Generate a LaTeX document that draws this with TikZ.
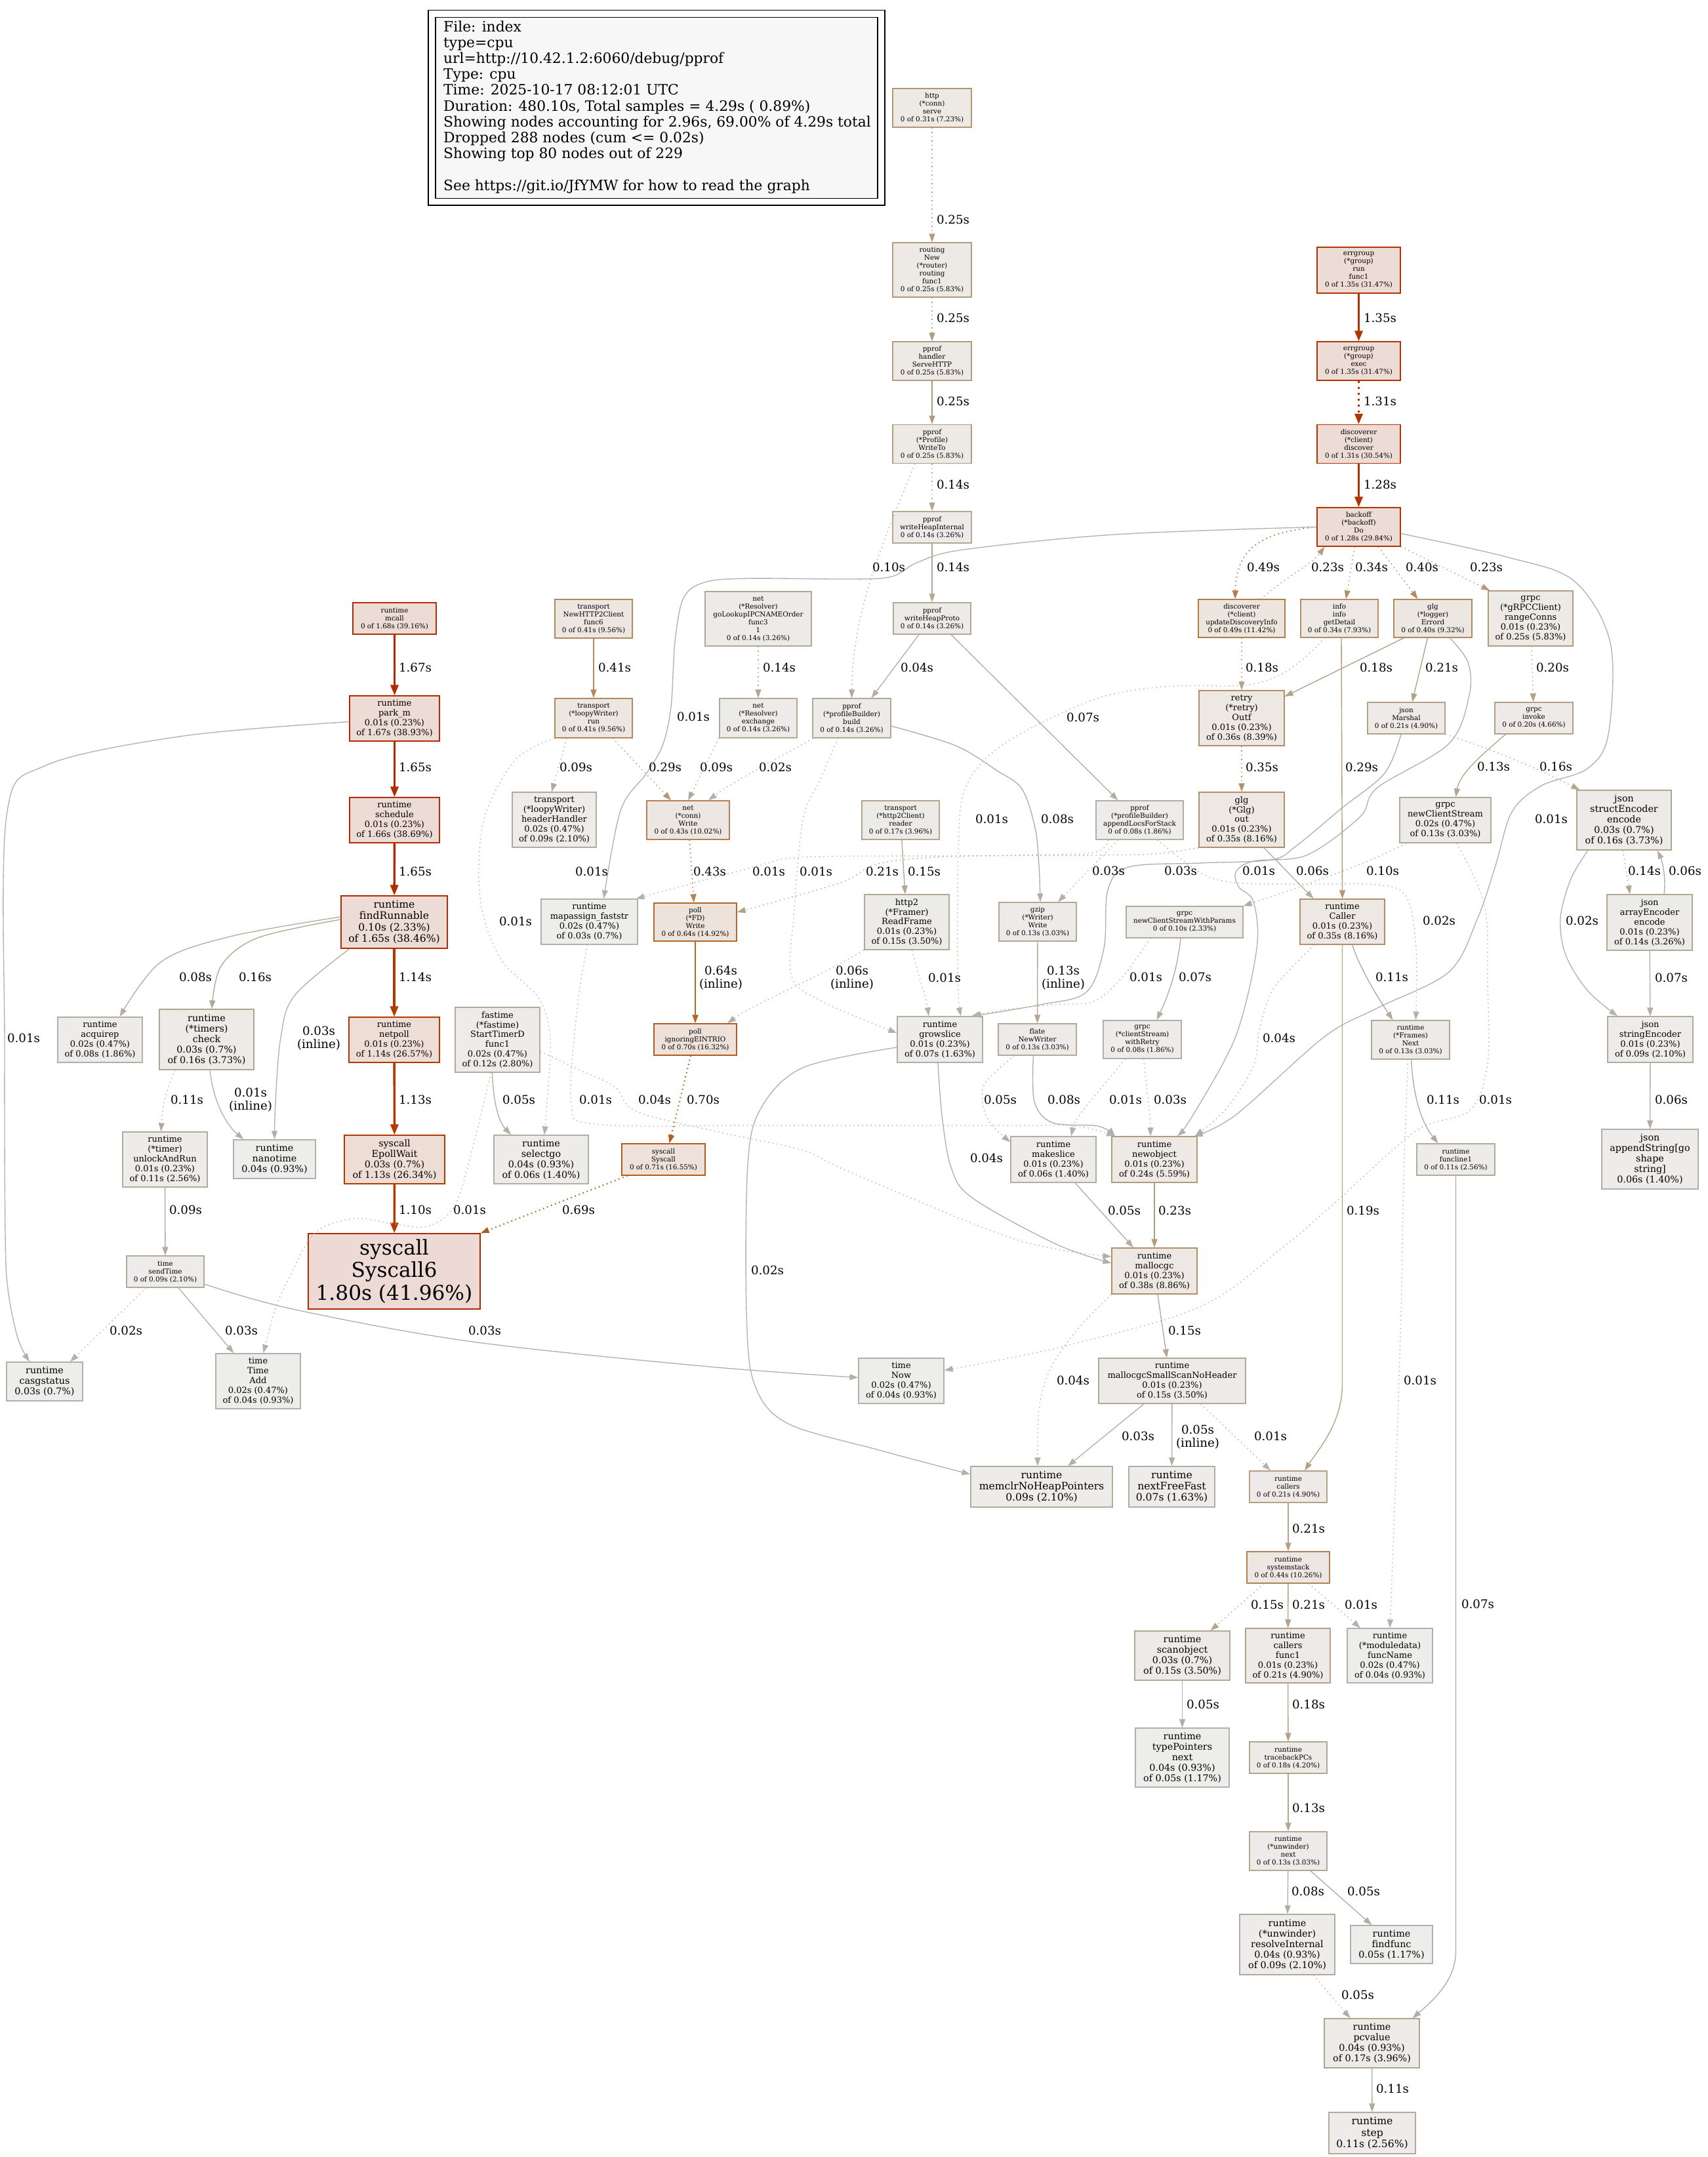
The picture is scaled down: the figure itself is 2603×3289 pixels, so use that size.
\documentclass[tikz,border=0pt]{standalone}
\usepackage{fontspec}
\setmainfont{DejaVu Serif}[Ligatures=CommonOff]
\usetikzlibrary{arrows.meta}
% node colours
\definecolor{kd1}{HTML}{B22800}\definecolor{kf1}{HTML}{EDDAD5}
\definecolor{kd2}{HTML}{B22C00}\definecolor{kf2}{HTML}{EDDBD5}
\definecolor{kd3}{HTML}{B23500}\definecolor{kf3}{HTML}{EDDCD5}
\definecolor{kd4}{HTML}{B23A00}\definecolor{kf4}{HTML}{EDDDD5}
\definecolor{kd5}{HTML}{B25D20}\definecolor{kf5}{HTML}{EDE1D9}
\definecolor{kd6}{HTML}{B2672D}\definecolor{kf6}{HTML}{EDE3DB}
\definecolor{kd7}{HTML}{B28254}\definecolor{kf7}{HTML}{EDE7E1}
\definecolor{kd7b}{HTML}{B27D4C}\definecolor{kf7b}{HTML}{EDE6DF}
\definecolor{kd8}{HTML}{B2895F}\definecolor{kf8}{HTML}{EDE7E2}
\definecolor{kd9}{HTML}{B28F68}\definecolor{kf9}{HTML}{EDE8E3}
\definecolor{kd10}{HTML}{B29572}\definecolor{kf10}{HTML}{EDE9E4}
\definecolor{kd11}{HTML}{B29C7F}\definecolor{kf11}{HTML}{EDEAE6}
\definecolor{kd12}{HTML}{B2A087}\definecolor{kf12}{HTML}{EDEAE7}
\definecolor{kd13}{HTML}{B2A58F}\definecolor{kf13}{HTML}{EDEBE8}
\definecolor{kd14}{HTML}{B2A895}\definecolor{kf14}{HTML}{EDEBE9}
\definecolor{kd15}{HTML}{B2AB9C}\definecolor{kf15}{HTML}{EDECEA}
\definecolor{kd16}{HTML}{B2AEA4}\definecolor{kf16}{HTML}{EDECEB}
\definecolor{kd17}{HTML}{B2B0AA}\definecolor{kf17}{HTML}{EDEDEC}
% edge colours
\definecolor{ec1}{HTML}{B22C00}
\definecolor{ec2}{HTML}{B23500}
\definecolor{ec3}{HTML}{B23A00}
\definecolor{ec4}{HTML}{B25D20}
\definecolor{ec5}{HTML}{B2672D}
\definecolor{ec6}{HTML}{B27D4C}
\definecolor{ec7}{HTML}{B28457}
\definecolor{ec8}{HTML}{B2885D}
\definecolor{ec9}{HTML}{B2906A}
\definecolor{ec10}{HTML}{B29776}
\definecolor{ec11}{HTML}{B29C7F}
\definecolor{ec12}{HTML}{B2A287}
\definecolor{ec13}{HTML}{B2A793}
\definecolor{ec14}{HTML}{B2AB9D}
\definecolor{ec15}{HTML}{B2AEA5}
\definecolor{ec16}{HTML}{B2B0AB}
\definecolor{ec17}{HTML}{B2B2B0}
\definecolor{legfill}{HTML}{F7F7F7}
\tikzset{
  nd/.style={draw, rectangle, inner sep=0pt, align=center, line width=1.3pt},
  sz/.style 2 args={minimum width=#1pt, minimum height=#2pt},
  fa/.style={font=\fontsize{10.4}{12}\selectfont},
  fb/.style={font=\fontsize{13}{14.9}\selectfont},
  fc/.style={font=\fontsize{14.3}{16}\selectfont},
  fd/.style={font=\fontsize{15.6}{17.4}\selectfont},
  fe/.style={font=\fontsize{31.2}{34.4}\selectfont},
  k1/.style={draw=kd1, fill=kf1}, k2/.style={draw=kd2, fill=kf2},
  k3/.style={draw=kd3, fill=kf3}, k4/.style={draw=kd4, fill=kf4},
  k5/.style={draw=kd5, fill=kf5}, k6/.style={draw=kd6, fill=kf6},
  k7/.style={draw=kd7, fill=kf7}, k7b/.style={draw=kd7b, fill=kf7b},
  k8/.style={draw=kd8, fill=kf8}, k9/.style={draw=kd9, fill=kf9},
  k10/.style={draw=kd10, fill=kf10}, k11/.style={draw=kd11, fill=kf11},
  k12/.style={draw=kd12, fill=kf12}, k13/.style={draw=kd13, fill=kf13},
  k14/.style={draw=kd14, fill=kf14}, k15/.style={draw=kd15, fill=kf15},
  k16/.style={draw=kd16, fill=kf16}, k17/.style={draw=kd17, fill=kf17},
  ed/.style={-{Triangle[length=13pt,width=9pt]}, line width=1.35pt},
  edt/.style={-{Triangle[length=16pt,width=12pt]}, line width=3.4pt},
  dt/.style={dash pattern=on 1.5pt off 5pt},
  dtt/.style={dash pattern=on 3pt off 6pt},
  sm/.style={smooth, tension=0.55},
  lb/.style={font=\fontsize{18.2}{20}\selectfont, inner sep=0pt, align=center},
  lg/.style={font=\fontsize{21.8}{24}\selectfont, inner sep=0pt, anchor=base west},
}
\begin{document}
\begin{tikzpicture}[x=1pt,y=-1pt]
\useasboundingbox (0,0) rectangle (2603,3289);
\fill[white] (0,0) rectangle (2603,3289);
% legend
\draw[line width=1.3pt, fill=white] (653,15.7) rectangle (1349,313);
\draw[line width=1.3pt, fill=legfill] (664,26.7) rectangle (1338,302.6);
\node[lg] (lg1) at (676,49) {File: index};
\node[lg] (lg2) at (676,73) {type=cpu};
\node[lg] (lg3) at (676,97) {url=http://10.42.1.2:6060/debug/pprof};
\node[lg] (lg4) at (676,121) {Type: cpu};
\node[lg] (lg5) at (676,145) {Time: 2025-10-17 08:12:01 UTC};
\node[lg] (lg6) at (676,169) {Duration: 480.10s, Total samples = 4.29s ( 0.89\%)};
\node[lg] (lg7) at (676,193) {Showing nodes accounting for 2.96s, 69.00\% of 4.29s total};
\node[lg] (lg8) at (676,217) {Dropped 288 nodes (cum <= 0.02s)};
\node[lg] (lg9) at (676,241) {Showing top 80 nodes out of 229};
\node[lg] (lg10) at (676,290) {See https://git.io/JfYMW for how to read the graph};
% nodes
\node[nd,k10,fa,sz={120}{59}] (httpserve) at (1421,164.5) {http\\(*conn)\\serve\\0 of 0.31s (7.23\%)};
\node[nd,k11,fa,sz={120}{83}] (routing) at (1421,411.5) {routing\\New\\(*router)\\routing\\func1\\0 of 0.25s (5.83\%)};
\node[nd,k11,fa,sz={120}{59}] (servehttp) at (1421,550.5) {pprof\\handler\\ServeHTTP\\0 of 0.25s (5.83\%)};
\node[nd,k11,fa,sz={120}{59}] (writeto) at (1421,677) {pprof\\(*Profile)\\WriteTo\\0 of 0.25s (5.83\%)};
\node[nd,k14,fa,sz={120}{48}] (whi) at (1421,804) {pprof\\writeHeapInternal\\0 of 0.14s (3.26\%)};
\node[nd,k3,fa,sz={127}{70}] (egrun) at (2071.5,412) {errgroup\\(*group)\\run\\func1\\0 of 1.35s (31.47\%)};
\node[nd,k3,fa,sz={127}{59}] (egexec) at (2071.5,550.5) {errgroup\\(*group)\\exec\\0 of 1.35s (31.47\%)};
\node[nd,k3,fa,sz={127}{59}] (discover) at (2071.5,677) {discoverer\\(*client)\\discover\\0 of 1.31s (30.54\%)};
\node[nd,k3,fa,sz={127}{59}] (backoff) at (2071.5,803.5) {backoff\\(*backoff)\\Do\\0 of 1.28s (29.84\%)};
\node[nd,k2,fa,sz={127}{48}] (mcall) at (601.5,943) {runtime\\mcall\\0 of 1.68s (39.16\%)};
\node[nd,k2,fb,sz={137}{69}] (parkm) at (601.5,1095.5) {runtime\\park\_m\\0.01s (0.23\%)\\of 1.67s (38.93\%)};
\node[nd,k2,fb,sz={137}{69}] (schedule) at (601.5,1250.5) {runtime\\schedule\\0.01s (0.23\%)\\of 1.66s (38.69\%)};
\node[nd,k2,fd,sz={162}{80}] (findrun) at (601,1406) {runtime\\findRunnable\\0.10s (2.33\%)\\of 1.65s (38.46\%)};
\node[nd,k8,fa,sz={118}{59}] (func6) at (905,943.5) {transport\\NewHTTP2Client\\func6\\0 of 0.41s (9.56\%)};
\node[nd,k8,fa,sz={118}{60}] (loopyrun) at (905,1095) {transport\\(*loopyWriter)\\run\\0 of 0.41s (9.56\%)};
\node[nd,k15,fb,sz={128}{84}] (hdrhandler) at (845,1250) {transport\\(*loopyWriter)\\headerHandler\\0.02s (0.47\%)\\of 0.09s (2.10\%)};
\node[nd,k14,fa,sz={162}{83}] (resfunc3) at (1156,943.5) {net\\(*Resolver)\\goLookupIPCNAMEOrder\\func3\\1\\0 of 0.14s (3.26\%)};
\node[nd,k14,fa,sz={118}{60}] (exchange) at (1156,1095) {net\\(*Resolver)\\exchange\\0 of 0.14s (3.26\%)};
\node[nd,k14,fa,sz={118}{48}] (whp) at (1421,943) {pprof\\writeHeapProto\\0 of 0.14s (3.26\%)};
\node[nd,k14,fa,sz={119}{60}] (build) at (1298.5,1095) {pprof\\(*profileBuilder)\\build\\0 of 0.14s (3.26\%)};
\node[nd,k7,fa,sz={126}{59}] (connwrite) at (1049,1250.5) {net\\(*conn)\\Write\\0 of 0.43s (10.02\%)};
\node[nd,k13,fa,sz={118}{59}] (reader) at (1373,1250.5) {transport\\(*http2Client)\\reader\\0 of 0.17s (3.96\%)};
\node[nd,k17,fb,sz={147}{69}] (mapassign) at (898.5,1405.5) {runtime\\mapassign\_faststr\\0.02s (0.47\%)\\of 0.03s (0.7\%)};
\node[nd,k6,fa,sz={126}{58}] (fdwrite) at (1060,1406) {poll\\(*FD)\\Write\\0 of 0.64s (14.92\%)};
\node[nd,k14,fb,sz={129}{84}] (readframe) at (1382.5,1406) {http2\\(*Framer)\\ReadFrame\\0.01s (0.23\%)\\of 0.15s (3.50\%)};
\node[nd,k7b,fa,sz={132}{58}] (updisc) at (1893,943) {discoverer\\(*client)\\updateDiscoveryInfo\\0 of 0.49s (11.42\%)};
\node[nd,k9,fa,sz={118}{58}] (getdetail) at (2042,943) {info\\info\\getDetail\\0 of 0.34s (7.93\%)};
\node[nd,k8,fa,sz={119}{58}] (errord) at (2184.5,943) {glg\\(*logger)\\Errord\\0 of 0.40s (9.32\%)};
\node[nd,k11,fb,sz={129}{84}] (rangeconns) at (2333.5,943) {grpc\\(*gRPCClient)\\rangeConns\\0.01s (0.23\%)\\of 0.25s (5.83\%)};
\node[nd,k9,fb,sz={130}{84}] (outf) at (1893,1095) {retry\\(*retry)\\Outf\\0.01s (0.23\%)\\of 0.36s (8.39\%)};
\node[nd,k12,fa,sz={118}{48}] (marshal) at (2144,1095) {json\\Marshal\\0 of 0.21s (4.90\%)};
\node[nd,k12,fa,sz={119}{48}] (invoke) at (2338.5,1095) {grpc\\invoke\\0 of 0.20s (4.66\%)};
\node[nd,k9,fb,sz={130}{84}] (glgout) at (1893,1250) {glg\\(*Glg)\\out\\0.01s (0.23\%)\\of 0.35s (8.16\%)};
\node[nd,k16,fa,sz={133}{59}] (appendlocs) at (1737.5,1250.5) {pprof\\(*profileBuilder)\\appendLocsForStack\\0 of 0.08s (1.86\%)};
\node[nd,k14,fb,sz={139}{69}] (newcs) at (2203.5,1250.5) {grpc\\newClientStream\\0.02s (0.47\%)\\of 0.13s (3.03\%)};
\node[nd,k13,fc,sz={144}{91}] (structenc) at (2476,1250.5) {json\\structEncoder\\encode\\0.03s (0.7\%)\\of 0.16s (3.73\%)};
\node[nd,k14,fa,sz={118}{59}] (gzip) at (1582,1405.5) {gzip\\(*Writer)\\Write\\0 of 0.13s (3.03\%)};
\node[nd,k15,fa,sz={178}{48}] (ncswp) at (1806,1406) {grpc\\newClientStreamWithParams\\0 of 0.10s (2.33\%)};
\node[nd,k9,fb,sz={129}{69}] (caller) at (2046.5,1405.5) {runtime\\Caller\\0.01s (0.23\%)\\of 0.35s (8.16\%)};
\node[nd,k14,fb,sz={130}{85}] (arrayenc) at (2515,1406.5) {json\\arrayEncoder\\encode\\0.01s (0.23\%)\\of 0.14s (3.26\%)};
\node[nd,k16,fb,sz={129}{69}] (acquirep) at (152.5,1585.5) {runtime\\acquirep\\0.02s (0.47\%)\\of 0.08s (1.86\%)};
\node[nd,k13,fc,sz={144}{92}] (timerscheck) at (315,1585) {runtime\\(*timers)\\check\\0.03s (0.7\%)\\of 0.16s (3.73\%)};
\node[nd,k4,fb,sz={138}{69}] (netpoll) at (601,1585.5) {runtime\\netpoll\\0.01s (0.23\%)\\of 1.14s (26.57\%)};
\node[nd,k15,fb,sz={129}{99}] (fastime) at (758.5,1585.5) {fastime\\(*fastime)\\StartTimerD\\func1\\0.02s (0.47\%)\\of 0.12s (2.80\%)};
\node[nd,k5,fa,sz={126}{48}] (eintr) at (1060,1585) {poll\\ignoringEINTRIO\\0 of 0.70s (16.32\%)};
\node[nd,k16,fb,sz={130}{70}] (growslice) at (1433,1585) {runtime\\growslice\\0.01s (0.23\%)\\of 0.07s (1.63\%)};
\node[nd,k14,fa,sz={119}{48}] (flate) at (1581.5,1585) {flate\\NewWriter\\0 of 0.13s (3.03\%)};
\node[nd,k16,fa,sz={119}{58}] (withretry) at (1741.5,1585) {grpc\\(*clientStream)\\withRetry\\0 of 0.08s (1.86\%)};
\node[nd,k14,fa,sz={119}{59}] (framesnext) at (2150.5,1585.5) {runtime\\(*Frames)\\Next\\0 of 0.13s (3.03\%)};
\node[nd,k15,fb,sz={130}{70}] (stringenc) at (2516,1585) {json\\stringEncoder\\0.01s (0.23\%)\\of 0.09s (2.10\%)};
\node[nd,k15,fb,sz={129}{84}] (unlock) at (251.5,1768) {runtime\\(*timer)\\unlockAndRun\\0.01s (0.23\%)\\of 0.11s (2.56\%)};
\node[nd,k17,fc,sz={125}{59}] (nanotime) at (418.5,1767.5) {runtime\\nanotime\\0.04s (0.93\%)};
\node[nd,k4,fc,sz={153}{74}] (epollwait) at (601.5,1768) {syscall\\EpollWait\\0.03s (0.7\%)\\of 1.13s (26.34\%)};
\node[nd,k16,fc,sz={144}{74}] (selectgo) at (825,1768) {runtime\\selectgo\\0.04s (0.93\%)\\of 0.06s (1.40\%)};
\node[nd,k5,fa,sz={127}{48}] (syscall) at (1011.5,1768) {syscall\\Syscall\\0 of 0.71s (16.55\%)};
\node[nd,k16,fb,sz={130}{70}] (makeslice) at (1606,1768) {runtime\\makeslice\\0.01s (0.23\%)\\of 0.06s (1.40\%)};
\node[nd,k11,fb,sz={130}{70}] (newobject) at (1760,1768) {runtime\\newobject\\0.01s (0.23\%)\\of 0.24s (5.59\%)};
\node[nd,k15,fa,sz={119}{48}] (funcline1) at (2219.5,1768) {runtime\\funcline1\\0 of 0.11s (2.56\%)};
\node[nd,k16,fc,sz={147}{91}] (appendstring) at (2515.5,1767.5) {json\\appendString[go\\shape\\string]\\0.06s (1.40\%)};
\node[nd,k15,fa,sz={118}{48}] (sendtime) at (252,1939) {time\\sendTime\\0 of 0.09s (2.10\%)};
\node[nd,k1,fe,sz={262}{115}] (syscall6) at (601,1938.5) {syscall\\Syscall6\\1.80s (41.96\%)};
\node[nd,k9,fb,sz={130}{70}] (mallocgc) at (1760,1938) {runtime\\mallocgc\\0.01s (0.23\%)\\of 0.38s (8.86\%)};
\node[nd,k17,fc,sz={116}{59}] (casgstatus) at (68,2106.5) {runtime\\casgstatus\\0.03s (0.7\%)};
\node[nd,k17,fb,sz={129}{84}] (timeadd) at (393.5,2106) {time\\Time\\Add\\0.02s (0.47\%)\\of 0.04s (0.93\%)};
\node[nd,k17,fb,sz={130}{69}] (timenow) at (1374,2105.5) {time\\Now\\0.02s (0.47\%)\\of 0.04s (0.93\%)};
\node[nd,k14,fb,sz={224}{69}] (smallscan) at (1787,2105.5) {runtime\\mallocgcSmallScanNoHeader\\0.01s (0.23\%)\\of 0.15s (3.50\%)};
\node[nd,k15,fd,sz={216}{62}] (memclr) at (1588,2267) {runtime\\memclrNoHeapPointers\\0.09s (2.10\%)};
\node[nd,k16,fd,sz={131}{62}] (nextfree) at (1786.5,2267) {runtime\\nextFreeFast\\0.07s (1.63\%)};
\node[nd,k12,fa,sz={118}{48}] (callers) at (1964,2267) {runtime\\callers\\0 of 0.21s (4.90\%)};
\node[nd,k7,fa,sz={126}{48}] (systemstack) at (1964,2390) {runtime\\systemstack\\0 of 0.44s (10.26\%)};
\node[nd,k14,fc,sz={145}{75}] (scanobject) at (1802.5,2524.5) {runtime\\scanobject\\0.03s (0.7\%)\\of 0.15s (3.50\%)};
\node[nd,k12,fb,sz={129}{83}] (callersfunc1) at (1963.5,2524.5) {runtime\\callers\\func1\\0.01s (0.23\%)\\of 0.21s (4.90\%)};
\node[nd,k17,fb,sz={130}{83}] (funcname) at (2119,2524.5) {runtime\\(*moduledata)\\funcName\\0.02s (0.47\%)\\of 0.04s (0.93\%)};
\node[nd,k17,fc,sz={143}{90}] (typeptrs) at (1802.5,2680) {runtime\\typePointers\\next\\0.04s (0.93\%)\\of 0.05s (1.17\%)};
\node[nd,k13,fa,sz={118}{48}] (tracebackpcs) at (1964,2680) {runtime\\tracebackPCs\\0 of 0.18s (4.20\%)};
\node[nd,k14,fa,sz={118}{59}] (unwnext) at (1964,2822.5) {runtime\\(*unwinder)\\next\\0 of 0.13s (3.03\%)};
\node[nd,k15,fc,sz={145}{92}] (resolve) at (1962.5,2965) {runtime\\(*unwinder)\\resolveInternal\\0.04s (0.93\%)\\of 0.09s (2.10\%)};
\node[nd,k17,fc,sz={125}{58}] (findfunc) at (2121.5,2965) {runtime\\findfunc\\0.05s (1.17\%)};
\node[nd,k13,fc,sz={145}{75}] (pcvalue) at (2091.5,3115.5) {runtime\\pcvalue\\0.04s (0.93\%)\\of 0.17s (3.96\%)};
\node[nd,k15,fd,sz={132}{63}] (step) at (2092,3252.5) {runtime\\step\\0.11s (2.56\%)};
% edges
\draw[ed,dt,draw=ec11] (httpserve) -- (routing);
\draw[ed,dt,draw=ec11] (routing) -- (servehttp);
\draw[ed,draw=ec11] (servehttp) -- (writeto);
\draw[ed,dt,draw=ec13] (writeto) -- (whi);
\draw[ed,dt,draw=ec14] ([xshift=-26pt]writeto.south) .. controls (1345,830) and (1300,930) .. (build.north);
\draw[ed,draw=ec13] (whi) -- (whp);
\draw[ed,draw=ec16] ([xshift=-20pt]whp.south) -- ([xshift=30pt]build.north);
\draw[ed,draw=ec15] ([xshift=29pt]whp.south) -- ([xshift=-33pt]appendlocs.north);
\draw[edt,draw=ec2] (egrun) -- (egexec);
\draw[edt,dtt,draw=ec2] (egexec) -- (discover);
\draw[edt,draw=ec2] (discover) -- (backoff);
\draw[ed,dt,draw=ec6,line width=1.9pt] (backoff.west) .. controls (1930,812) and (1885,830) .. ([xshift=-10pt]updisc.north);
\draw[ed,dt,draw=ec11] ([xshift=29pt]updisc.north) .. controls (1960,880) and (2000,860) .. ([xshift=-52pt]backoff.south);
\draw[ed,dt,draw=ec9] ([xshift=-6pt]backoff.south) -- ([xshift=10pt]getdetail.north);
\draw[ed,dt,draw=ec8] ([xshift=30pt]backoff.south) -- ([xshift=-23pt]errord.north);
\draw[ed,dt,draw=ec11] (backoff.south east) -- ([xshift=3pt]rangeconns.north west);
\draw[ed,draw=ec17] plot[sm] coordinates {(backoff.west) (1700,815) (1470,838) (1400,857) (1360,879) (1300,883) (1140,882) (1074,888) (1042,912) (1029,979) (1023,1078) (1010,1137) (985,1180) (946,1236) ([xshift=22pt]mapassign.north)};
\draw[ed,draw=ec17] plot[sm] coordinates {([yshift=-10pt]backoff.east) (2300,850) (2400,886) (2455,980) (2452,1120) (2420,1172) (2350,1198) (2305,1238) (2280,1320) (2252,1402) (2209,1482) (2100,1537) (2019,1581) (1884,1700) ([xshift=-5pt]newobject.north east)};
\draw[ed,dt,draw=ec12] (updisc) -- (outf);
\draw[ed,draw=ec10] ([xshift=3pt]getdetail.south) -- (caller.north);
\draw[ed,dt,draw=ec17] plot[sm] coordinates {([xshift=-22pt]getdetail.south) (1990,1002) (1950,1030) (1895,1045) (1775,1047) (1667,1067) (1531,1134) (1472,1201) (1461,1300) (1460,1491) ([xshift=32pt]growslice.north)};
\draw[ed,draw=ec12] ([xshift=-44pt]errord.south) -- ([yshift=33pt]outf.east);
\draw[ed,draw=ec12] ([xshift=-8pt]errord.south) -- ([xshift=9pt]marshal.north);
\draw[ed,draw=ec17] plot[sm] coordinates {([xshift=26pt]errord.south) (2238,1010) (2240,1060) (2209,1134) (2100,1201) (2073,1246) (1992,1304) (1911,1313) (1884,1330) (1889,1353) (1911,1375) (1916,1446) (1884,1580) (1819,1700) ([xshift=35pt]newobject.north)};
\draw[ed,dt,draw=ec13] (marshal.south east) .. controls (2300,1150) and (2380,1190) .. ([xshift=5pt]structenc.north west);
\draw[ed,draw=ec16] plot[sm] coordinates {([xshift=-8pt]marshal.south) (2111,1179) (2046,1232) (1976,1290) (1938,1311) (1829,1316) (1721,1322) (1689,1357) (1683,1446) (1656,1513) (1586,1532) ([xshift=50pt]growslice.north)};
\draw[ed,dt,draw=ec12] (rangeconns) -- (invoke);
\draw[ed,draw=ec13] ([xshift=-43pt]invoke.south) .. controls (2260,1150) and (2225,1180) .. ([xshift=16pt]newcs.north);
\draw[ed,dt,draw=ec9] (outf) -- (glgout);
\draw[ed,draw=ec15] ([xshift=34pt]glgout.south) -- ([xshift=-44pt]caller.north);
\draw[ed,dt,draw=ec12] plot[sm] coordinates {(glgout.south west) (1760,1302) (1667,1304) (1450,1306) (1339,1317) (1281,1346) ([yshift=15pt]fdwrite.east)};
\draw[ed,dt,draw=ec17] plot[sm] coordinates {([xshift=-48pt]appendlocs.south) (1667,1300) (1550,1304) (1450,1305) (1224,1307) (1149,1322) ([xshift=-3pt]mapassign.north east)};
\draw[ed,dt,draw=ec16] ([xshift=-33pt]appendlocs.south) -- ([xshift=31pt]gzip.north);
\draw[ed,dt,draw=ec17] plot[sm] coordinates {([xshift=27pt]appendlocs.south) (1829,1330) (1884,1346) (2000,1348) (2100,1349) (2144,1367) (2159,1446) ([xshift=8pt]framesnext.north)};
\draw[ed,dt,draw=ec14] ([xshift=-60pt]newcs.south) .. controls (2080,1320) and (1960,1360) .. (ncswp.north east);
\draw[ed,dt,draw=ec17] plot[sm] coordinates {([xshift=17pt]newcs.south) (2263,1379) (2268,1500) (2268,1620) (2241,1693) (2158,1725) (2033,1836) (1958,1900) (1831,1992) (1621,2053) ([yshift=16pt]timenow.east)};
\draw[ed,dt,draw=ec13] ([xshift=-2pt]structenc.south) -- ([xshift=-30pt]arrayenc.north);
\draw[ed,draw=ec15] ([xshift=22pt]arrayenc.north) .. controls (2540,1340) and (2535,1315) .. ([xshift=51pt]structenc.south);
\draw[ed,draw=ec17] plot[sm] coordinates {([xshift=-55pt]structenc.south) (2395,1340) (2379,1400) (2387,1456) (2420,1510) ([xshift=-50pt]stringenc.north)};
\draw[ed,draw=ec15] (arrayenc) -- (stringenc);
\draw[ed,draw=ec15] (stringenc) -- (appendstring);
\draw[ed,draw=ec15] ([xshift=-6pt]ncswp.south) .. controls (1795,1480) and (1780,1520) .. ([xshift=22pt]withretry.north);
\draw[ed,dt,draw=ec17] plot[sm] coordinates {([xshift=-52pt]ncswp.south) (1710,1491) (1667,1527) (1602,1532) (1530,1540) ([xshift=48pt]growslice.north)};
\draw[ed,draw=ec14] ([xshift=15pt]caller.south) .. controls (2075,1480) and (2100,1520) .. ([xshift=-27pt]framesnext.north);
\draw[ed,dt,draw=ec16] plot[sm] coordinates {([xshift=-43pt]caller.south) (1965,1480) (1938,1513) (1920,1570) (1911,1625) (1870,1690) ([xshift=62pt]newobject.north)};
\draw[ed,draw=ec12] (caller.south) -- (2046.5,2110) .. controls (2046.5,2170) and (2010,2210) .. ([xshift=25pt]callers.north);
\draw[ed,draw=ec13] (gzip) -- (flate);
\draw[ed,dt,draw=ec15] plot[sm] coordinates {([xshift=-35pt]flate.south) (1500,1655) (1505,1705) ([yshift=-9pt]makeslice.north west)};
\draw[ed,draw=ec15] plot[sm] coordinates {([xshift=-6pt]flate.south) (1577,1680) (1605,1712) (1674,1717) ([xshift=-60pt]newobject.north)};
\draw[ed,dt,draw=ec17] ([xshift=-26pt]withretry.south) .. controls (1680,1660) and (1640,1700) .. ([xshift=27pt]makeslice.north);
\draw[ed,dt,draw=ec16] ([xshift=2pt]withretry.south) .. controls (1748,1660) and (1754,1700) .. ([xshift=-6pt]newobject.north);
\draw[ed,draw=ec14] ([xshift=1pt]framesnext.south) .. controls (2155,1680) and (2170,1715) .. ([xshift=-27pt]funcline1.north);
\draw[ed,dt,draw=ec17] plot[sm] coordinates {([xshift=-4pt]framesnext.south) (2140,1800) (2136,2000) (2128,2250) (funcname.north)};
\draw[ed,draw=ec15] (funcline1.south) -- (2219.5,2975) .. controls (2219.5,3020) and (2185,3050) .. ([xshift=62pt]pcvalue.north);
\draw[edt,draw=ec1] (mcall) -- (parkm);
\draw[edt,draw=ec1] (parkm) -- (schedule);
\draw[edt,draw=ec1] (schedule) -- (findrun);
\draw[edt,draw=ec3] (findrun) -- (netpoll);
\draw[edt,draw=ec3] (netpoll) -- (epollwait);
\draw[edt,draw=ec3] (epollwait) -- (syscall6);
\draw[ed,draw=ec17] plot[sm] coordinates {([yshift=-5pt]parkm.west) (281,1122) (70,1167) (10,1244) (7,1600) (8,1880) (12,1965) (27,2040) ([xshift=-23pt]casgstatus.north)};
\draw[ed,draw=ec15] plot[sm] coordinates {([yshift=8pt]findrun.west) (351,1428) (245,1467) ([xshift=30pt]acquirep.north)};
\draw[ed,draw=ec13] plot[sm] coordinates {([yshift=4pt]findrun.west) (393,1430) (337,1473) ([xshift=8pt]timerscheck.north)};
\draw[ed,draw=ec16] plot[sm] coordinates {([xshift=-68pt]findrun.south) (449,1518) (428,1582) (420,1680) (nanotime.north)};
\draw[ed,dt,draw=ec14] ([xshift=-48pt]timerscheck.south) .. controls (249,1670) and (247,1700) .. ([xshift=-6pt]unlock.north);
\draw[ed,draw=ec17] ([xshift=5pt]timerscheck.south) .. controls (325,1680) and (345,1715) .. ([xshift=-47pt]nanotime.north);
\draw[ed,draw=ec14] (unlock) -- (sendtime);
\draw[ed,dt,draw=ec17] ([xshift=-29pt]sendtime.south) -- ([xshift=39pt]casgstatus.north);
\draw[ed,draw=ec16] ([xshift=20pt]sendtime.south) -- ([xshift=-37pt]timeadd.north);
\draw[ed,draw=ec16] plot[sm] coordinates {([yshift=-19pt]sendtime.east) (446,1996) (714,2045) (1071,2083) ([yshift=5pt]timenow.west)};
\draw[ed,draw=ec8] (func6) -- (loopyrun);
\draw[ed,dt,draw=ec14] ([xshift=-41pt]loopyrun.south) -- ([xshift=-4pt]hdrhandler.north);
\draw[ed,dt,draw=ec10] ([xshift=29pt]loopyrun.south) -- ([xshift=-26pt]connwrite.north);
\draw[ed,dt,draw=ec17] plot[sm] coordinates {(loopyrun.south west) (787,1157) (742,1236) (730,1315) (736,1393) (765,1465) (822,1523) (839,1585) (834,1680) ([xshift=5pt]selectgo.north)};
\draw[ed,dt,draw=ec13] (resfunc3) -- (exchange);
\draw[ed,dt,draw=ec14] ([xshift=-60pt]exchange.south) -- (connwrite.north);
\draw[ed,dt,draw=ec17] ([xshift=-59pt]build.south) .. controls (1180,1160) and (1120,1190) .. ([xshift=31pt]connwrite.north);
\draw[ed,draw=ec15] plot[sm] coordinates {([yshift=-12pt]build.east) (1457,1137) (1520,1175) (1558,1203) (1578,1262) (1584,1320) ([xshift=4pt]gzip.north)};
\draw[ed,dt,draw=ec17] plot[sm] coordinates {([xshift=-21pt]build.south) (1250,1190) (1224,1250) (1210,1400) (1207,1489) (1253,1527) ([yshift=10pt]growslice.west)};
\draw[ed,dt,draw=ec7,line width=1.9pt] (connwrite) -- (fdwrite);
\draw[ed,draw=ec13] (reader) -- (readframe);
\draw[ed,draw=ec5,line width=2.2pt] (fdwrite) -- (eintr);
\draw[ed,dt,draw=ec15] ([xshift=-66pt]readframe.south) .. controls (1250,1490) and (1150,1530) .. ([xshift=49pt]eintr.north);
\draw[ed,dt,draw=ec17] ([xshift=8pt]readframe.south) .. controls (1400,1490) and (1412,1520) .. ([xshift=-17pt]growslice.north);
\draw[ed,dt,draw=ec17] plot[sm] coordinates {([xshift=-3pt]mapassign.south) (880,1537) (871,1680) (908,1714) (1167,1716) (1550,1716) (1642,1717) ([xshift=-60pt]newobject.north)};
\draw[ed,dt,draw=ec4,line width=2.2pt] ([xshift=-7pt]eintr.south) -- ([xshift=9pt]syscall.north);
\draw[ed,dt,draw=ec4,line width=2.2pt] ([xshift=-55pt]syscall.south) -- (syscall6.north east);
\draw[ed,draw=ec15] ([xshift=-8pt]fastime.south) .. controls (752,1680) and (760,1710) .. ([xshift=-46pt]selectgo.north);
\draw[ed,dt,draw=ec16] plot[sm] coordinates {([yshift=-18pt]fastime.east) (880,1630) (937,1657) (971,1695) (1100,1727) (1224,1754) (1291,1785) (1546,1889) ([yshift=22pt]mallocgc.west)};
\draw[ed,dt,draw=ec17] plot[sm] coordinates {([xshift=-10pt]fastime.south) (723,1741) (694,1837) (652,1870) (600,1866) (540,1858) (480,1880) (440,1950) (420,1995) ([xshift=8pt]timeadd.north)};
\draw[ed,draw=ec16] plot[sm] coordinates {([xshift=-3pt]growslice.south) (1436,1700) (1450,1780) (1483,1827) (1610,1897) ([yshift=12pt]mallocgc.west)};
\draw[ed,draw=ec17] plot[sm] coordinates {([yshift=-12pt]growslice.west) (1224,1628) (1160,1690) (1140,1776) (1138,2000) (1150,2110) (1200,2170) (1340,2211) ([yshift=19pt]memclr.west)};
\draw[ed,draw=ec15] ([xshift=33pt]makeslice.south) -- ([xshift=-32pt]mallocgc.north);
\draw[ed,draw=ec11] (newobject) -- (mallocgc);
\draw[ed,draw=ec13] ([xshift=5pt]mallocgc.south) -- ([xshift=-8pt]smallscan.north);
\draw[ed,dt,draw=ec16] plot[sm] coordinates {(mallocgc.south west) (1640,2030) (1600,2090) (1584,2150) ([xshift=-6pt]memclr.north)};
\draw[ed,draw=ec16] ([xshift=-43pt]smallscan.south) -- ([xshift=40pt]memclr.north);
\draw[ed,draw=ec15] (smallscan) -- (nextfree);
\draw[ed,dt,draw=ec17] ([xshift=44pt]smallscan.south) -- ([xshift=-27pt]callers.north);
\draw[ed,draw=ec12] (callers) -- (systemstack);
\draw[ed,dt,draw=ec13] ([xshift=-37pt]systemstack.south) -- ([xshift=43pt]scanobject.north);
\draw[ed,draw=ec12] (systemstack) -- (callersfunc1);
\draw[ed,dt,draw=ec17] ([xshift=31pt]systemstack.south) -- ([xshift=-45pt]funcname.north);
\draw[ed,draw=ec15] (scanobject) -- (typeptrs);
\draw[ed,draw=ec12] (callersfunc1) -- (tracebackpcs);
\draw[ed,draw=ec13] (tracebackpcs) -- (unwnext);
\draw[ed,draw=ec15] (unwnext) -- (resolve);
\draw[ed,draw=ec15] ([xshift=34pt]unwnext.south) -- ([xshift=-30pt]findfunc.north);
\draw[ed,dt,draw=ec15] ([xshift=40pt]resolve.south) -- ([xshift=-33pt]pcvalue.north);
\draw[ed,draw=ec14] (pcvalue) -- (step);
% edge labels
\node[lb] (l1) at (1453,335) {0.25s};
\node[lb] (l2) at (1453,485) {0.25s};
\node[lb] (l3) at (1453,612) {0.25s};
\node[lb] (l4) at (1453,739) {0.14s};
\node[lb] (l5) at (1355,865) {0.10s};
\node[lb] (l6) at (1453,865) {0.14s};
\node[lb] (l7) at (2104,485) {1.35s};
\node[lb] (l8) at (2104,612) {1.31s};
\node[lb] (l9) at (2104,739) {1.28s};
\node[lb] (l10) at (1926,865) {0.49s};
\node[lb] (l11) at (2024,865) {0.23s};
\node[lb] (l12) at (2091,865) {0.34s};
\node[lb] (l13) at (2168,865) {0.40s};
\node[lb] (l14) at (2266,865) {0.23s};
\node[lb] (l15) at (1924,1018) {0.18s};
\node[lb] (l16) at (2098,1018) {0.18s};
\node[lb] (l17) at (2198,1018) {0.21s};
\node[lb] (l18) at (2367,1018) {0.20s};
\node[lb] (l19) at (633,1018) {1.67s};
\node[lb] (l20) at (937,1018) {0.41s};
\node[lb] (l21) at (1188,1018) {0.14s};
\node[lb] (l22) at (1398,1018) {0.04s};
\node[lb] (l23) at (1057,1093) {0.01s};
\node[lb] (l24) at (1651,1094) {0.07s};
\node[lb] (l25) at (633,1170) {1.65s};
\node[lb] (l26) at (878,1170) {0.09s};
\node[lb] (l27) at (1014,1170) {0.29s};
\node[lb] (l28) at (1092,1170) {0.09s};
\node[lb] (l29) at (1182,1170) {0.02s};
\node[lb] (l30) at (1924,1170) {0.35s};
\node[lb] (l31) at (2076,1170) {0.29s};
\node[lb] (l32) at (2277,1169) {0.13s};
\node[lb] (l33) at (2372,1169) {0.16s};
\node[lb] (l34) at (1512,1249) {0.01s};
\node[lb] (l35) at (1612,1249) {0.08s};
\node[lb] (l36) at (2365,1249) {0.01s};
\node[lb] (l37) at (633,1329) {1.65s};
\node[lb] (l38) at (902,1329) {0.01s};
\node[lb] (l39) at (1082,1329) {0.43s};
\node[lb] (l40) at (1172,1329) {0.01s};
\node[lb] (l41) at (1244,1329) {0.01s};
\node[lb] (l42) at (1345,1329) {0.21s};
\node[lb] (l43) at (1409,1329) {0.15s};
\node[lb] (l44) at (1690,1328) {0.03s};
\node[lb] (l45) at (1800,1328) {0.03s};
\node[lb] (l46) at (1919,1328) {0.01s};
\node[lb] (l47) at (2001,1328) {0.06s};
\node[lb] (l48) at (2108,1328) {0.10s};
\node[lb] (l49) at (2507,1328) {0.14s};
\node[lb] (l50) at (2569,1328) {0.06s};
\node[lb] (l51) at (786,1405) {0.01s};
\node[lb] (l52) at (2194,1404) {0.02s};
\node[lb] (l53) at (2412,1404) {0.02s};
\node[lb] (l54) at (633,1490) {1.14s};
\node[lb] (l55) at (298,1490) {0.08s};
\node[lb] (l56) at (389,1490) {0.16s};
\node[lb] (l57) at (1099,1491) {0.64s\\(inline)};
\node[lb] (l58) at (1299,1491) {0.06s\\(inline)};
\node[lb] (l59) at (1440,1491) {0.01s};
\node[lb] (l60) at (1621,1491) {0.13s\\(inline)};
\node[lb] (l61) at (1747,1490) {0.01s};
\node[lb] (l62) at (1822,1490) {0.07s};
\node[lb] (l63) at (2122,1490) {0.11s};
\node[lb] (l64) at (2548,1491) {0.07s};
\node[lb] (l65) at (36,1583) {0.01s};
\node[lb] (l66) at (486,1583) {0.03s\\(inline)};
\node[lb] (l67) at (1950,1583) {0.04s};
\node[lb] (l68) at (633,1677) {1.13s};
\node[lb] (l69) at (285,1677) {0.11s};
\node[lb] (l70) at (382,1677) {0.01s\\(inline)};
\node[lb] (l71) at (791,1677) {0.05s};
\node[lb] (l72) at (908,1677) {0.01s};
\node[lb] (l73) at (998,1677) {0.04s};
\node[lb] (l74) at (1072,1677) {0.70s};
\node[lb] (l75) at (1525,1677) {0.05s};
\node[lb] (l76) at (1622,1677) {0.08s};
\node[lb] (l77) at (1716,1677) {0.01s};
\node[lb] (l78) at (1784,1677) {0.03s};
\node[lb] (l79) at (2200,1677) {0.11s};
\node[lb] (l80) at (2280,1677) {0.01s};
\node[lb] (l81) at (2548,1677) {0.06s};
\node[lb] (l82) at (1504,1766) {0.04s};
\node[lb] (l83) at (283,1845) {0.09s};
\node[lb] (l84) at (633,1845) {1.10s};
\node[lb] (l85) at (716,1845) {0.01s};
\node[lb] (l86) at (882,1845) {0.69s};
\node[lb] (l87) at (1714,1846) {0.05s};
\node[lb] (l88) at (1791,1846) {0.23s};
\node[lb] (l89) at (2078,1846) {0.19s};
\node[lb] (l90) at (1170,1937) {0.02s};
\node[lb] (l91) at (192,2029) {0.02s};
\node[lb] (l92) at (368,2029) {0.03s};
\node[lb] (l93) at (739,2029) {0.03s};
\node[lb] (l94) at (1806,2029) {0.15s};
\node[lb] (l95) at (1636,2105) {0.04s};
\node[lb] (l96) at (2165,2105) {0.01s};
\node[lb] (l97) at (1735,2190) {0.03s};
\node[lb] (l98) at (1826,2191) {0.05s\\(inline)};
\node[lb] (l99) at (1937,2190) {0.01s};
\node[lb] (l100) at (1995,2331) {0.21s};
\node[lb] (l101) at (1932,2447) {0.15s};
\node[lb] (l102) at (1995,2447) {0.21s};
\node[lb] (l103) at (2075,2447) {0.01s};
\node[lb] (l104) at (2253,2446) {0.07s};
\node[lb] (l105) at (1834,2599) {0.05s};
\node[lb] (l106) at (1995,2599) {0.18s};
\node[lb] (l107) at (1995,2757) {0.13s};
\node[lb] (l108) at (1994,2884) {0.08s};
\node[lb] (l109) at (2079,2884) {0.05s};
\node[lb] (l110) at (2070,3042) {0.05s};
\node[lb] (l111) at (2123,3185) {0.11s};
\end{tikzpicture}
\end{document}
